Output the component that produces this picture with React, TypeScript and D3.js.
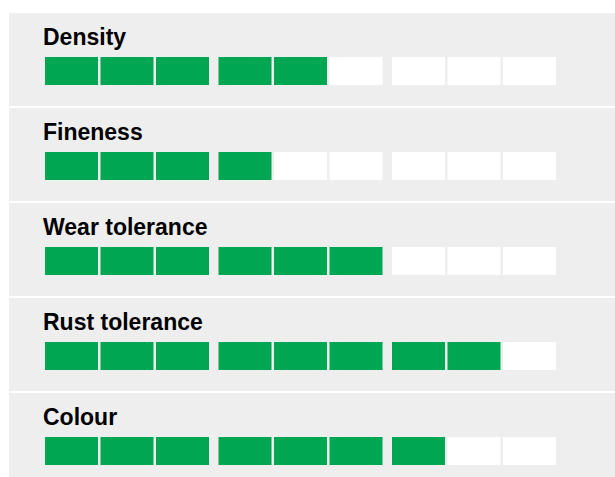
import React from "react";
import * as d3 from "d3";

const categories = ["Density", "Fineness", "Wear tolerance", "Rust tolerance", "Colour"];
const values = [5, 4, 6, 8, 7];
const maxScore = 9;
const groupSize = 3;

const W = 615;
const H = 477;
const GREEN = "#00A651";
const PANEL = "#EEEEEE";

export default function App() {
  const panelY = d3.scaleLinear().domain([0, 1]).range([13, 108]);
  const groupX = d3.scaleLinear().domain([0, 1]).range([45, 218.5]);
  const cellX = d3.scaleLinear().domain([0, 1]).range([0, 55.5]);
  const cellW = 53;
  const cellH = 28;
  const panelH = 93;
  const cells = d3.range(maxScore);

  return (
    <svg
      width={W}
      height={H}
      style={{ position: "absolute", left: 0, top: 0, display: "block", background: "#fff" }}
    >
      {categories.map((c, i) => {
        const y0 = panelY(i);
        return (
          <g key={c}>
            <rect x={9} y={y0} width={W - 9} height={panelH} fill={PANEL} />
            <text
              x={43}
              y={y0 + 32}
              fontFamily="'Liberation Sans', Arial, sans-serif"
              fontWeight="bold"
              fontSize={23}
              fill="#000"
            >
              {c}
            </text>
            {cells.map((k) => {
              const g = Math.floor(k / groupSize);
              const j = k % groupSize;
              return (
                <rect
                  key={k}
                  x={groupX(g) + cellX(j)}
                  y={y0 + 44}
                  width={cellW}
                  height={cellH}
                  fill={k < values[i] ? GREEN : "#FFFFFF"}
                />
              );
            })}
          </g>
        );
      })}
    </svg>
  );
}
